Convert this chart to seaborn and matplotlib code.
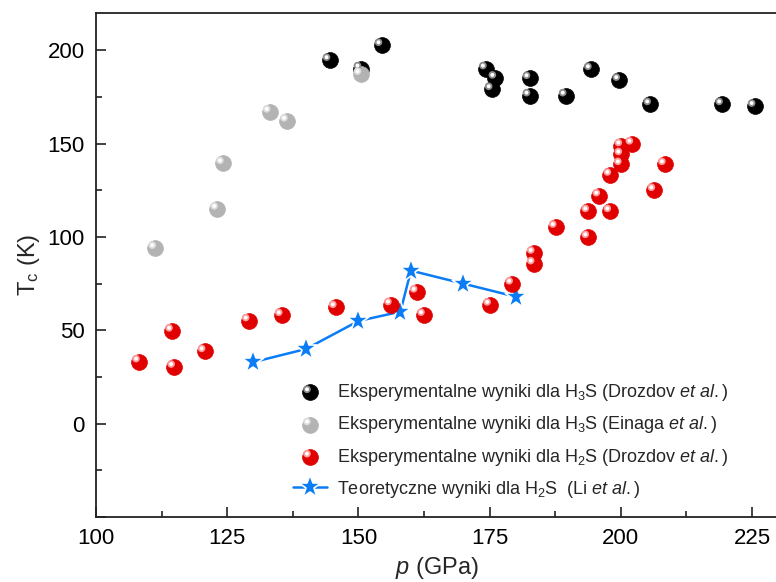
import matplotlib
matplotlib.use("Agg")
import matplotlib.pyplot as plt
import matplotlib.transforms as mtransforms
from matplotlib.legend_handler import HandlerPathCollection, HandlerTuple
from matplotlib.ticker import FuncFormatter, MultipleLocator
import pandas as pd
import seaborn as sns

# H3S, Drozdov et al.
h3s_drozdov_p = [144.5, 150.4, 154.4, 174.3, 176.1, 175.4, 182.6, 182.6, 189.5,
                 194.3, 199.7, 205.6, 219.3, 225.5]
h3s_drozdov_tc = [194.7, 190.2, 202.7, 190.2, 185.2, 179.1, 185.0, 175.7, 175.7,
                  189.8, 184.0, 171.0, 171.0, 170.1]

# H3S, Einaga et al.
h3s_einaga_p = [111.3, 123.1, 124.2, 133.1, 136.4, 150.4]
h3s_einaga_tc = [94.0, 115.0, 139.4, 167.0, 162.2, 187.2]

# H2S, Drozdov et al.
h2s_drozdov_p = [108.2, 114.5, 114.9, 120.7, 129.1, 135.4, 145.7, 156.2, 161.1,
                 162.5, 175.1, 179.3, 183.4, 183.4, 187.6, 193.8, 193.8, 195.9,
                 198.0, 198.0, 200.0, 200.1, 200.1, 202.2, 206.4, 208.4]
h2s_drozdov_tc = [33.2, 49.7, 30.3, 38.7, 55.2, 58.0, 62.3, 63.8, 70.6,
                  58.1, 63.6, 74.9, 85.7, 91.4, 105.3, 99.8, 113.7, 122.1,
                  113.7, 133.2, 138.9, 144.2, 149.0, 149.9, 125.0, 138.9]

# H2S theory, Li et al.
h2s_li_p = [130, 140, 150, 158, 160, 170, 180]
h2s_li_tc = [33, 40, 55, 60, 82, 75, 68]

labels = [
    r"Eksperymentalne wyniki dla H$_3$S (Drozdov $\it{et\ al.}$)",
    r"Eksperymentalne wyniki dla H$_3$S (Einaga $\it{et\ al.}$)",
    r"Eksperymentalne wyniki dla H$_2$S (Drozdov $\it{et\ al.}$)",
    r"Teoretyczne wyniki dla H$_2$S  (Li $\it{et\ al.}$)",
]

sns.set_style("white")
font = "Liberation Sans"
plt.rcParams["font.family"] = [font, "DejaVu Sans"]
plt.rcParams["mathtext.fontset"] = "custom"
plt.rcParams["mathtext.rm"] = font
plt.rcParams["mathtext.it"] = font + ":italic"

fig = plt.figure(figsize=(7.76, 5.82), dpi=100)
ax = fig.add_axes([96 / 776, 65 / 582, 1.003 - 96 / 776, 504 / 582])

shift = mtransforms.ScaledTranslation(-2.2 / 72, 2.2 / 72, fig.dpi_scale_trans)
shine = ax.transData + shift


class ShineHandler(HandlerPathCollection):
    # same small highlight offset as in the plot, for the legend spheres
    def create_artists(self, legend, orig_handle, xdescent, ydescent,
                       width, height, fontsize, trans):
        return super().create_artists(legend, orig_handle, xdescent, ydescent,
                                      width, height, fontsize, trans + shift)


spheres = [
    (h3s_drozdov_p, h3s_drozdov_tc, "#000000", "#8c8c8c"),
    (h3s_einaga_p, h3s_einaga_tc, "#b3b3b3", "#dcdcdc"),
    (h2s_drozdov_p, h2s_drozdov_tc, "#e00000", "#ff9a9a"),
]
handles = []
handler_map = {tuple: HandlerTuple(ndivide=1)}
for p, tc, color, glow in spheres:
    df = pd.DataFrame({"p": p, "tc": tc})
    sns.scatterplot(data=df, x="p", y="tc", ax=ax, color=color, s=130,
                    edgecolor=color, linewidth=0.5, zorder=3)
    base = ax.collections[-1]
    sns.scatterplot(data=df, x="p", y="tc", ax=ax, color=glow, s=30,
                    edgecolor="none", zorder=4)
    mid = ax.collections[-1]
    mid.set_offset_transform(shine)
    sns.scatterplot(data=df, x="p", y="tc", ax=ax, color="white", s=8,
                    edgecolor="none", zorder=5)
    top = ax.collections[-1]
    top.set_offset_transform(shine)
    handler_map[mid] = ShineHandler()
    handler_map[top] = ShineHandler()
    handles.append((base, mid, top))

li = pd.DataFrame({"p": h2s_li_p, "tc": h2s_li_tc})
sns.lineplot(data=li, x="p", y="tc", ax=ax, color="#0a7cf5", linewidth=1.8,
             marker="*", markersize=17, markeredgecolor="white",
             markeredgewidth=1.2, sort=False, zorder=2)
handles.append(ax.lines[-1])

ax.set_xlim(100, 230)
ax.set_ylim(-50, 220)
ax.xaxis.set_major_locator(MultipleLocator(25))
ax.xaxis.set_minor_locator(MultipleLocator(12.5))
ax.yaxis.set_major_locator(MultipleLocator(50))
ax.yaxis.set_minor_locator(MultipleLocator(25))
ax.yaxis.set_major_formatter(FuncFormatter(lambda v, _: "" if v < 0 else f"{v:g}"))
ax.tick_params(which="both", direction="in", bottom=True, left=True,
               top=False, right=False, width=1.2, labelsize=16, pad=8,
               colors="#222222", labelcolor="black")
ax.tick_params(which="major", length=7)
ax.tick_params(which="minor", length=4)
for side in ["left", "bottom", "top"]:
    ax.spines[side].set_linewidth(1.3)
    ax.spines[side].set_color("#222222")
ax.spines["right"].set_visible(False)

ax.set_xlabel(r"$\it{p}$ (GPa)", fontsize=17, labelpad=4)
ax.set_ylabel(r"T$_\mathrm{c}$ (K)", fontsize=17, labelpad=4)

ax.legend(handles, labels, handler_map=handler_map,
          loc="lower left", bbox_to_anchor=(0.278, 0.02), frameon=False,
          fontsize=13, labelspacing=0.62, handlelength=1.9, handletextpad=0.55,
          borderaxespad=0)

fig.savefig("out.png", dpi=100)
plt.close(fig)
